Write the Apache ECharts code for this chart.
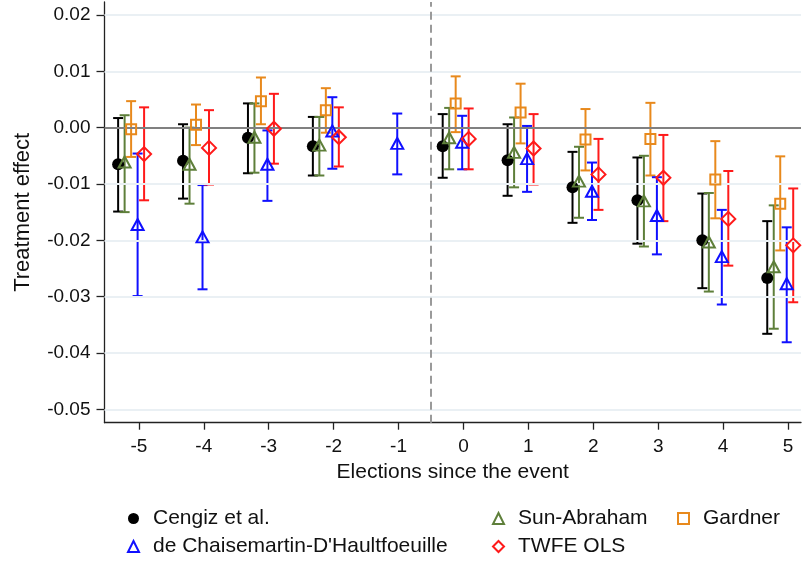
<!DOCTYPE html>
<html>
<head>
<meta charset="utf-8">
<script src="https://cdn.jsdelivr.net/npm/echarts@6/dist/echarts.min.js"></script>
<style>
html,body{margin:0;padding:0;background:#fff;}
#main{width:804px;height:564px;}
</style>
</head>
<body>
<div id="main"></div>
<script>
// ---- data ----
var categories = [-5, -4, -3, -2, -1, 0, 1, 2, 3, 4, 5];
var yTicks = [-0.05, -0.04, -0.03, -0.02, -0.01, 0, 0.01, 0.02];

var cengizEst = [-0.0065, -0.0059, -0.0018, -0.0033, null, -0.0033, -0.0058, -0.0106, -0.0129, -0.0200, -0.0267];
var cengizLo  = [-0.0149, -0.0126, -0.0081, -0.0085, null, -0.0089, -0.0121, -0.0169, -0.0206, -0.0285, -0.0366];
var cengizHi  = [ 0.0017,  0.0006,  0.0043,  0.0019, null,  0.0024,  0.0006, -0.0043, -0.0053, -0.0117, -0.0166];

var sunEst = [-0.0061, -0.0065, -0.0017, -0.0031, null, -0.0018, -0.0044, -0.0095, -0.0130, -0.0203, -0.0247];
var sunLo  = [-0.0150, -0.0135, -0.0080, -0.0085, null, -0.0074, -0.0106, -0.0160, -0.0211, -0.0291, -0.0357];
var sunHi  = [ 0.0022,  0.0000,  0.0043,  0.0019, null,  0.0035,  0.0018, -0.0034, -0.0050, -0.0116, -0.0138];

var gardEst = [-0.0003, 0.0005, 0.0047, 0.0031, null, 0.0043, 0.0027, -0.0021, -0.0020, -0.0092, -0.0135];
var gardLo  = [-0.0052, -0.0031, 0.0006, -0.0009, null, -0.0008, -0.0028, -0.0076, -0.0085, -0.0161, -0.0218];
var gardHi  = [ 0.0047, 0.0041, 0.0089, 0.0070, null, 0.0091, 0.0078, 0.0033, 0.0044, -0.0024, -0.0051];

var dcdhEst = [-0.0172, -0.0194, -0.0065, -0.0006, -0.0028, -0.0026, -0.0055, -0.0113, -0.0156, -0.0229, -0.0277];
var dcdhLo  = [-0.0299, -0.0287, -0.0130, -0.0073, -0.0083, -0.0074, -0.0114, -0.0164, -0.0225, -0.0314, -0.0381];
var dcdhHi  = [-0.0046, -0.0102, -0.0005,  0.0054,  0.0025,  0.0021,  0.0003, -0.0062, -0.0088, -0.0146, -0.0177];

var twfeEst = [-0.0047, -0.0036, -0.0002, -0.0017, null, -0.0020, -0.0037, -0.0083, -0.0089, -0.0162, -0.0209];
var twfeLo  = [-0.0129, -0.0101, -0.0064, -0.0069, null, -0.0074, -0.0101, -0.0146, -0.0166, -0.0245, -0.0310];
var twfeHi  = [ 0.0036,  0.0031,  0.0060,  0.0036, null,  0.0034,  0.0024, -0.0020, -0.0013, -0.0077, -0.0108];

var seriesNames = ['Cengiz et al.', 'Sun-Abraham', 'Gardner', "de Chaisemartin-D'Haultfoeuille", 'TWFE OLS'];

// ---- styling / layout ----
var FONT = '"Liberation Sans", Arial, sans-serif';
var defs = [
  {name: seriesNames[0], est: cengizEst, lo: cengizLo, hi: cengizHi, off: -0.32, color: '#000000', symbol: 'circle', size: 12, filled: true},
  {name: seriesNames[1], est: sunEst, lo: sunLo, hi: sunHi, off: -0.22, color: '#5e7f3a', symbol: 'triangle', size: [12, 11], filled: false},
  {name: seriesNames[2], est: gardEst, lo: gardLo, hi: gardHi, off: -0.12, color: '#e8891c', symbol: 'rect', size: 10, filled: false},
  {name: seriesNames[3], est: dcdhEst, lo: dcdhLo, hi: dcdhHi, off: -0.02, color: '#1010ff', symbol: 'triangle', size: [12, 11], filled: false},
  {name: seriesNames[4], est: twfeEst, lo: twfeLo, hi: twfeHi, off: 0.08, color: '#ff1a1a', symbol: 'diamond', size: 14, filled: false}
];

var series = [];
// guide lines
series.push({
  type: 'scatter', name: 'guides', data: [], silent: true,
  markLine: {
    silent: true, symbol: 'none', label: {show: false}, animation: false,
    data: yTicks.filter(function (v) { return v !== 0; }).map(function (v) {
      return {yAxis: v, lineStyle: {color: '#eaf0f4', width: 2, type: 'solid'}};
    }).concat([
      {yAxis: 0, lineStyle: {color: '#808080', width: 2, type: 'solid'}},
      {xAxis: -0.5, lineStyle: {color: '#9a9a9a', width: 2, type: [8, 5]}}
    ])
  }
});

defs.forEach(function (d) {
  var errData = [];
  var ptData = [];
  categories.forEach(function (c, i) {
    if (d.lo[i] != null) errData.push([c + d.off, d.lo[i], d.hi[i]]);
    if (d.est[i] != null) ptData.push([c + d.off, d.est[i]]);
  });
  series.push({
    type: 'custom', name: d.name + ' CI', data: errData, silent: true,
    encode: {x: 0, y: [1, 2]},
    renderItem: (function (color) {
      return function (params, api) {
        var x = api.value(0), l = api.value(1), h = api.value(2);
        var p1 = api.coord([x, h]), p2 = api.coord([x, l]);
        var cw = 5;
        var st = {stroke: color, lineWidth: 2};
        return {type: 'group', children: [
          {type: 'line', shape: {x1: p1[0], y1: p1[1], x2: p2[0], y2: p2[1]}, style: st},
          {type: 'line', shape: {x1: p1[0] - cw, y1: p1[1], x2: p1[0] + cw, y2: p1[1]}, style: st},
          {type: 'line', shape: {x1: p2[0] - cw, y1: p2[1], x2: p2[0] + cw, y2: p2[1]}, style: st}
        ]};
      };
    })(d.color)
  });
  series.push({
    type: 'scatter', name: d.name, data: ptData, symbol: d.symbol, symbolSize: d.size, z: 5,
    itemStyle: d.filled ? {color: d.color, opacity: 1} :
      {color: 'rgba(255,255,255,0)', borderColor: d.color, borderWidth: 2, opacity: 1}
  });
});

function legendCol(left, names) {
  return {
    orient: 'vertical', left: left, top: 508, padding: 0, itemGap: 7, height: 56,
    itemWidth: 11, itemHeight: 11,
    textStyle: {fontFamily: FONT, fontSize: 21, color: '#111', padding: [0, 0, 0, 9]},
    data: names, selectedMode: false
  };
}

var option = {
  animation: false,
  backgroundColor: '#fff',
  grid: {left: 104.5, right: 3, top: 2, bottom: 141.3, containLabel: false},
  legend: [
    legendCol(127, [seriesNames[0], seriesNames[3]]),
    legendCol(492, [seriesNames[1], seriesNames[4]]),
    legendCol(677, [seriesNames[2]])
  ],
  xAxis: {
    type: 'value', min: -5.53, max: 5.2,
    name: 'Elections since the event', nameLocation: 'middle', nameGap: 37,
    nameTextStyle: {fontFamily: FONT, fontSize: 21, color: '#111'},
    axisLine: {onZero: false, lineStyle: {color: '#222', width: 1.3}},
    axisTick: {show: true, length: 7, lineStyle: {color: '#222', width: 1.3}, customValues: categories},
    axisLabel: {customValues: categories, fontFamily: FONT, fontSize: 19, color: '#111', margin: 15,
      formatter: function (v) { return String(Math.round(v)); }},
    splitLine: {show: false}
  },
  yAxis: {
    type: 'value', min: -0.05238, max: 0.0223,
    name: 'Treatment effect', nameLocation: 'middle', nameGap: 71, nameRotate: 90,
    nameTextStyle: {fontFamily: FONT, fontSize: 22, color: '#111'},
    axisLine: {onZero: false, lineStyle: {color: '#222', width: 1.3}},
    axisTick: {show: true, length: 8, lineStyle: {color: '#222', width: 1.3}, customValues: yTicks},
    axisLabel: {customValues: yTicks, fontFamily: FONT, fontSize: 19, color: '#111', margin: 14,
      formatter: function (v) { return (Math.abs(v) < 1e-9 ? 0 : v).toFixed(2); }},
    splitLine: {show: false}
  },
  series: series
};

var chart = echarts.init(document.getElementById('main'), null, {renderer: 'canvas'});
chart.setOption(option);
</script>
</body>
</html>
